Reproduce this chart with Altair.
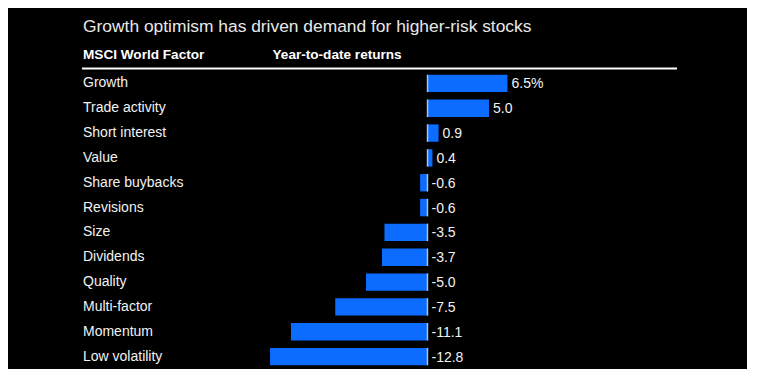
import altair as alt
import pandas as pd

factors = ["Growth", "Trade activity", "Short interest", "Value", "Share buybacks",
           "Revisions", "Size", "Dividends", "Quality", "Multi-factor", "Momentum",
           "Low volatility"]
returns = [6.5, 5.0, 0.9, 0.4, -0.6, -0.6, -3.5, -3.7, -5.0, -7.5, -11.1, -12.8]
value_labels = ["6.5%", "5.0", "0.9", "0.4", "-0.6", "-0.6", "-3.5", "-3.7", "-5.0",
                "-7.5", "-11.1", "-12.8"]

title_text = "Growth optimism has driven demand for higher-risk stocks"
col1_header = "MSCI World Factor"
col2_header = "Year-to-date returns"

df = pd.DataFrame({
    "factor": factors,
    "ret": returns,
    "label": value_labels,
    "labelpos": [max(v, 0) for v in returns],
    "zero": [0] * len(factors),
})

W, H = 594, 298
FONT = "Liberation Sans"
BLUE = "#0b6cff"
PX_PER_UNIT = 12.3
ZERO_PX = 344.5

xscale = alt.Scale(domain=[-ZERO_PX / PX_PER_UNIT, (W - ZERO_PX) / PX_PER_UNIT],
                   nice=False, zero=False)
yscale = alt.Scale(domain=factors, paddingInner=0.3, paddingOuter=0.15)

base = alt.Chart(df)

bars = base.mark_bar(color=BLUE).encode(
    x=alt.X("ret:Q", scale=xscale, axis=None),
    x2=alt.X2("zero:Q"),
    y=alt.Y("factor:N", scale=yscale, axis=None, sort=factors),
)

zero_ticks = base.mark_tick(color="white", size=17.5, thickness=1.5, orient="vertical").encode(
    x=alt.X("zero:Q", scale=xscale, axis=None),
    y=alt.Y("factor:N", scale=yscale, axis=None, sort=factors),
)

row_labels = base.mark_text(align="left", baseline="alphabetic", dy=4, font=FONT,
                            fontSize=14, color="#f2f2f2").encode(
    x=alt.value(0),
    y=alt.Y("factor:N", scale=yscale, axis=None, sort=factors),
    text="factor:N",
)

val_labels = base.mark_text(align="left", baseline="alphabetic", dx=4, dy=5, font=FONT,
                            fontSize=14, color="#f2f2f2").encode(
    x=alt.X("labelpos:Q", scale=xscale, axis=None),
    y=alt.Y("factor:N", scale=yscale, axis=None, sort=factors),
    text="label:N",
)

one = alt.Chart(pd.DataFrame({"t": [title_text], "h1": [col1_header], "h2": [col2_header]}))

title = one.mark_text(align="left", baseline="alphabetic", font=FONT, fontSize=17.4,
                      color="#e8e8e8").encode(
    x=alt.value(0), y=alt.value(-39.5), text="t:N")

h1 = one.mark_text(align="left", baseline="alphabetic", font=FONT, fontSize=13.6,
                   fontWeight="bold", color="white").encode(
    x=alt.value(0), y=alt.value(-11.6), text="h1:N")

h2 = one.mark_text(align="left", baseline="alphabetic", font=FONT, fontSize=13.6,
                   fontWeight="bold", color="white").encode(
    x=alt.value(189.5), y=alt.value(-11.6), text="h2:N")

hline = one.mark_rule(color="white", strokeWidth=2).encode(
    x=alt.value(-1), x2=alt.value(W), y=alt.value(-2.5))

chart = alt.layer(bars, zero_ticks, row_labels, val_labels, title, h1, h2, hline).properties(
    width=W, height=H,
    autosize=alt.AutoSizeParams(type="none"),
    padding={"left": 75, "top": 63, "right": 70, "bottom": 0},
    background="black",
).configure_view(stroke=None)

chart.save("out.html", embed_options={"renderer": "svg", "actions": False})
